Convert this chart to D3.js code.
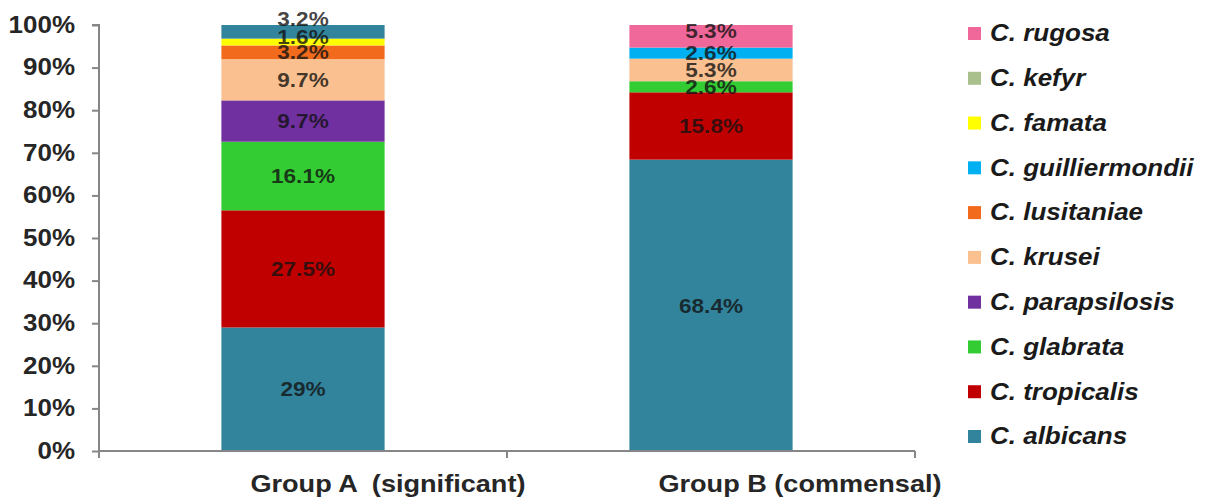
<!DOCTYPE html>
<html>
<head>
<meta charset="utf-8">
<script src="https://cdn.jsdelivr.net/npm/d3@7"></script>
<style>
  html, body { margin: 0; padding: 0; background: #fff; }
  svg { display: block; font-family: "Liberation Sans", Arial, sans-serif; }
</style>
</head>
<body>
<svg id="chart" width="1212" height="500"></svg>
<script>
// Candida species distribution by patient group (percent of isolates)
const groups = ["Group A  (significant)", "Group B (commensal)"];
const species = ["C. albicans", "C. tropicalis", "C. glabrata", "C. parapsilosis", "C. krusei",
                 "C. lusitaniae", "C. guilliermondii", "C. famata", "C. kefyr", "C. rugosa"];
// one entry per species, one array per group
const groupAValues = [29, 27.5, 16.1, 9.7, 9.7, 3.2, 0, 1.6, 3.2, 0];
const groupBValues = [68.4, 15.8, 2.6, 0, 5.3, 0, 2.6, 0, 0, 5.3];
const yTicks = [0, 10, 20, 30, 40, 50, 60, 70, 80, 90, 100];

const legendColors = ["#31849B", "#C00000", "#33CC33", "#7030A0", "#FAC090",
                      "#F26B1D", "#00B0F0", "#FFFF00", "#A9BF8C", "#F0679A"];
// fill used for the stacked segments (kefyr segment is drawn in the darker teal)
const fillColors = legendColors.map((c, i) => species[i] === "C. kefyr" ? "#31849B" : c);
// small vertical nudges for crowded labels at the top of a bar [group][species]
const labelNudge = [
  [0, 0, 0, 0, 0, 0, 0, -5, -13, 0],
  [0, 0, 0, 0, 0, 0, 0, 0, 0, -5]
];

const STRETCH = 1.13; // text is set slightly wide
const svg = d3.select("#chart");
const plot = { left: 99, right: 915, top: 25, bottom: 451 };

const x = d3.scaleBand().domain(groups).range([plot.left, plot.right])
  .paddingInner(0.6).paddingOuter(0.3);
const y = d3.scaleLinear().domain([0, 100]).range([plot.bottom, plot.top]);

const rows = groups.map((g, gi) => {
  const vals = gi === 0 ? groupAValues : groupBValues;
  const r = { group: g };
  species.forEach((s, si) => { r[s] = vals[si]; });
  return r;
});
const stack = d3.stack().keys(species)(rows);

function wideText(sel, tx, ty) {
  return sel.append("text").attr("transform", `translate(${tx},${ty}) scale(${STRETCH},1)`);
}

// y axis
const yAxis = svg.append("g")
  .attr("transform", `translate(${plot.left},0)`)
  .call(d3.axisLeft(y).tickValues(yTicks).tickFormat(d => d + "%").tickSize(7));
yAxis.select(".domain").attr("stroke", "#868686").attr("stroke-width", 2)
  .attr("d", `M-7,${plot.top}H0V${plot.bottom + 2}`);
yAxis.selectAll(".tick line").attr("stroke", "#868686").attr("stroke-width", 2);
yAxis.selectAll(".tick text")
  .attr("x", 0)
  .attr("transform", `translate(-24,0) scale(${STRETCH},1)`)
  .attr("fill", "#262626").attr("font-size", 23).attr("font-weight", "bold");

// stacked segments
const layers = svg.append("g").selectAll("g").data(stack).join("g")
  .attr("fill", (d, i) => fillColors[i]);
layers.selectAll("rect").data(d => d).join("rect")
  .attr("x", d => x(d.data.group))
  .attr("width", x.bandwidth())
  .attr("y", d => y(d[1]))
  .attr("height", d => y(d[0]) - y(d[1]));

// x axis with category boundary ticks
const xAxisG = svg.append("g");
xAxisG.append("line").attr("x1", plot.left).attr("x2", plot.right)
  .attr("y1", plot.bottom).attr("y2", plot.bottom)
  .attr("stroke", "#868686").attr("stroke-width", 2);
const boundaries = [plot.left, ...groups.map(g => x(g) + x.bandwidth() / 2 + x.step() / 2)];
xAxisG.selectAll("line.tk").data(boundaries).join("line").attr("class", "tk")
  .attr("x1", d => d).attr("x2", d => d)
  .attr("y1", plot.bottom).attr("y2", plot.bottom + 7)
  .attr("stroke", "#868686").attr("stroke-width", 2);
groups.forEach(g => {
  wideText(xAxisG, x(g) + 29, 492)
    .attr("font-size", 24).attr("font-weight", "bold").attr("fill", "#262626")
    .attr("xml:space", "preserve").style("white-space", "pre")
    .text(g);
});

// value labels, taken from the same data as the segments
const labels = svg.append("g");
stack.forEach((layer, si) => {
  layer.forEach((d, gi) => {
    const v = d.data[species[si]];
    if (v <= 0) return;
    wideText(labels, x(d.data.group) + x.bandwidth() / 2,
             (y(d[0]) + y(d[1])) / 2 + labelNudge[gi][si])
      .attr("dy", "0.36em")
      .attr("text-anchor", "middle")
      .attr("font-size", 20).attr("font-weight", "bold")
      .attr("fill", "#111").attr("fill-opacity", 0.8)
      .text(v + "%");
  });
});

// legend, top entry is the last species
const legendOrder = species.map((s, i) => i).reverse();
const legend = svg.append("g");
const rowY = d3.scalePoint().domain(legendOrder).range([33, 436]);
legendOrder.forEach(i => {
  const g = legend.append("g").attr("transform", `translate(968,${rowY(i)})`);
  g.append("rect").attr("x", 0).attr("y", -6).attr("width", 13).attr("height", 13)
    .attr("fill", legendColors[i]);
  wideText(g, 22, 0).attr("dy", "0.36em")
    .attr("font-size", 23).attr("font-weight", "bold").attr("font-style", "italic")
    .attr("fill", "#1a1a1a").text(species[i]);
});
</script>
</body>
</html>
